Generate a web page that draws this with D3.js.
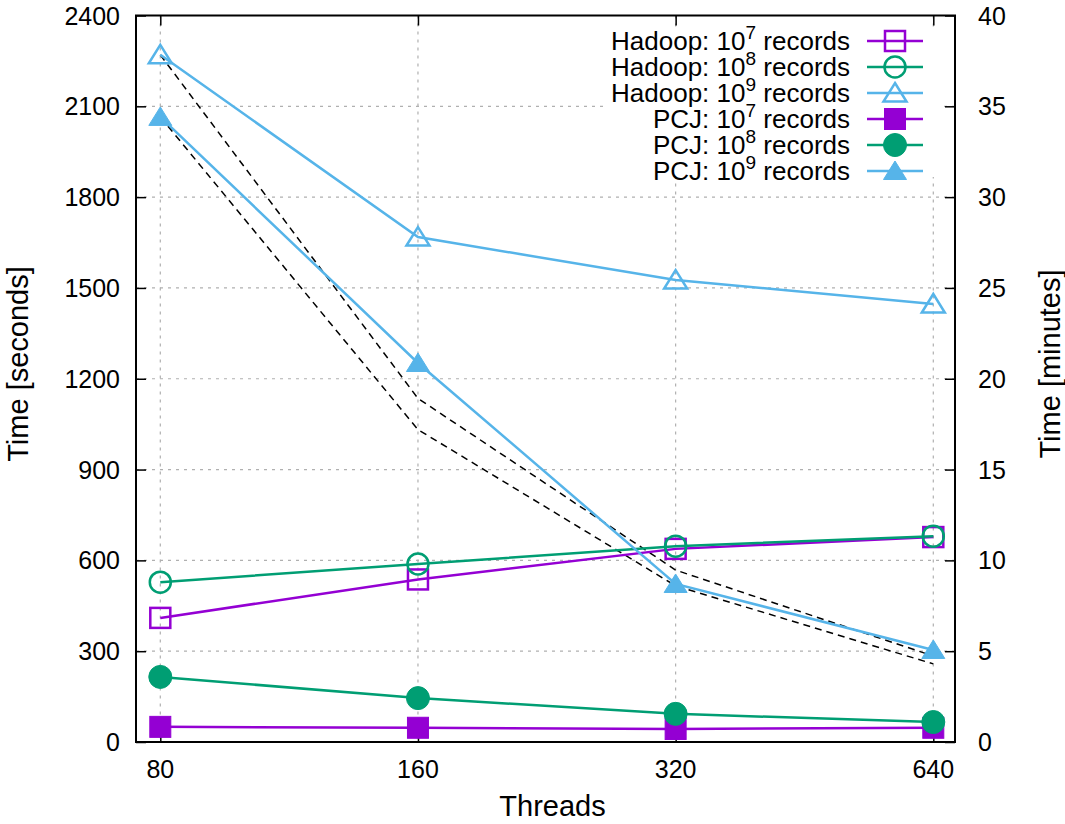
<!DOCTYPE html>
<html><head><meta charset="utf-8">
<script src="https://cdn.jsdelivr.net/npm/d3@7"></script>
<style>body{margin:0;background:#fff}svg text{font-family:"Liberation Sans",Arial,sans-serif;fill:#000}</style>
</head><body>
<svg id="c" width="1065" height="824"></svg>
<script>
const threads = [80, 160, 320, 640];
const yTicks = [0, 300, 600, 900, 1200, 1500, 1800, 2100, 2400];
const y2Ticks = [0, 5, 10, 15, 20, 25, 30, 35, 40];
const hadoop7 = [410, 537, 638, 677];
const hadoop8 = [528, 588, 647, 680];
const hadoop9 = [2270, 1668, 1526, 1447];
const pcj7 = [50, 47, 43, 47];
const pcj8 = [215, 145, 93, 66];
const pcj9 = [2065, 1252, 522, 304];
const ideal1 = [2270, 1135, 568, 284];
const ideal2 = [2065, 1032, 516, 258];
const seriesNames = ["Hadoop", "Hadoop", "Hadoop", "PCJ", "PCJ", "PCJ"];
const seriesExp = ["7", "8", "9", "7", "8", "9"];

const purple = "#9400d3", green = "#009e73", blue = "#56b4e9";
const series = [
  {v: hadoop7, c: purple, m: "square", fill: false},
  {v: hadoop8, c: green, m: "circle", fill: false},
  {v: hadoop9, c: blue, m: "triangle", fill: false},
  {v: pcj7, c: purple, m: "square", fill: true},
  {v: pcj8, c: green, m: "circle", fill: true},
  {v: pcj9, c: blue, m: "triangle", fill: true}
];

const L = 136, R = 955, T = 15.5, B = 742;
const x = d3.scaleLog().domain([80, 640]).range([160.3, 933.3]);
const y = d3.scaleLinear().domain([0, 2400]).range([B, T]);
const y2 = d3.scaleLinear().domain([0, 40]).range([B, T]);

const svg = d3.select("#c");

// grid
const g = svg.append("g").attr("stroke", "#b0b0b0").attr("stroke-width", 1.2).attr("stroke-dasharray", "3,5");
yTicks.slice(1, -1).forEach(t => g.append("line").attr("x1", L).attr("x2", R).attr("y1", y(t)).attr("y2", y(t)));
threads.forEach(t => g.append("line").attr("x1", x(t)).attr("x2", x(t)).attr("y1", T).attr("y2", B));

// axes with inward ticks
const axL = svg.append("g").attr("transform", `translate(${L},0)`)
  .call(d3.axisRight(y).tickValues(yTicks).tickSize(10).tickFormat(""));
const axR = svg.append("g").attr("transform", `translate(${R},0)`)
  .call(d3.axisLeft(y2).tickValues(y2Ticks).tickSize(10).tickFormat(""));
const axB = svg.append("g").attr("transform", `translate(0,${B})`)
  .call(d3.axisTop(x).tickValues(threads).tickSize(10).tickFormat(""));
const axT = svg.append("g").attr("transform", `translate(0,${T})`)
  .call(d3.axisBottom(x).tickValues(threads).tickSize(10).tickFormat(""));
[axL, axR, axB, axT].forEach(a => { a.select(".domain").remove(); a.selectAll("line").attr("stroke", "#000").attr("stroke-width", 1.5); });

// tick labels
svg.append("g").selectAll("text").data(yTicks).join("text")
  .attr("x", 120).attr("y", d => y(d) + 9).attr("text-anchor", "end").attr("font-size", 25).text(d => d);
svg.append("g").selectAll("text").data(y2Ticks).join("text")
  .attr("x", 978).attr("y", d => y2(d) + 9).attr("text-anchor", "start").attr("font-size", 25).text(d => d);
svg.append("g").selectAll("text").data(threads).join("text")
  .attr("x", d => x(d)).attr("y", 778).attr("text-anchor", "middle").attr("font-size", 25).text(d => d);

// axis titles
svg.append("text").attr("x", (L + R) / 2 + 7).attr("y", 816).attr("text-anchor", "middle").attr("font-size", 29).text("Threads");
svg.append("text").attr("transform", "translate(28,364) rotate(-90)").attr("text-anchor", "middle").attr("font-size", 29).text("Time [seconds]");
svg.append("text").attr("transform", "translate(1060,364) rotate(-90)").attr("text-anchor", "middle").attr("font-size", 29).text("Time [minutes]");

function marker(sel, m, cx, cy, c, fill) {
  let el;
  if (m === "square") {
    const s = fill ? 21 : 20;
    el = sel.append("rect").attr("x", cx - s / 2).attr("y", cy - s / 2).attr("width", s).attr("height", s);
  } else if (m === "circle") {
    el = sel.append("circle").attr("cx", cx).attr("cy", cy).attr("r", fill ? 11.5 : 10.5);
  } else {
    const w = 11.5, h = 10;
    el = sel.append("path").attr("d", `M${cx},${cy - h}L${cx + w},${cy + h * 0.85}L${cx - w},${cy + h * 0.85}Z`);
  }
  el.attr("fill", fill ? c : "none").attr("stroke", c).attr("stroke-width", fill ? 1 : 2.5);
}

const line = d3.line().x((d, i) => x(threads[i])).y(d => y(d));

// ideal dashed lines
[ideal1, ideal2].forEach(v => svg.append("path").attr("d", line(v)).attr("fill", "none")
  .attr("stroke", "#000").attr("stroke-width", 1.5).attr("stroke-dasharray", "7,5"));

// data
series.forEach(s => {
  svg.append("path").attr("d", line(s.v)).attr("fill", "none").attr("stroke", s.c).attr("stroke-width", 2.5);
  const mg = svg.append("g");
  s.v.forEach((d, i) => marker(mg, s.m, x(threads[i]), y(d), s.c, s.fill));
});

// frame
svg.append("rect").attr("x", L).attr("y", T).attr("width", R - L).attr("height", B - T)
  .attr("fill", "none").attr("stroke", "#000").attr("stroke-width", 2);

// legend
svg.append("rect").attr("x", 607).attr("y", 29).attr("width", 333).attr("height", 148).attr("fill", "#fff");
series.forEach((s, i) => {
  const ly = 41 + i * 26;
  const t = svg.append("text").attr("x", 850).attr("y", ly + 9).attr("text-anchor", "end").attr("font-size", 26);
  t.append("tspan").text(seriesNames[i] + ": 10");
  t.append("tspan").attr("dy", -11).attr("font-size", 19).text(seriesExp[i]);
  t.append("tspan").attr("dy", 11).text(" records");
  svg.append("line").attr("x1", 867).attr("x2", 923).attr("y1", ly).attr("y2", ly).attr("stroke", s.c).attr("stroke-width", 2.5);
  marker(svg, s.m, 895, ly, s.c, s.fill);
});
</script>
</body></html>
